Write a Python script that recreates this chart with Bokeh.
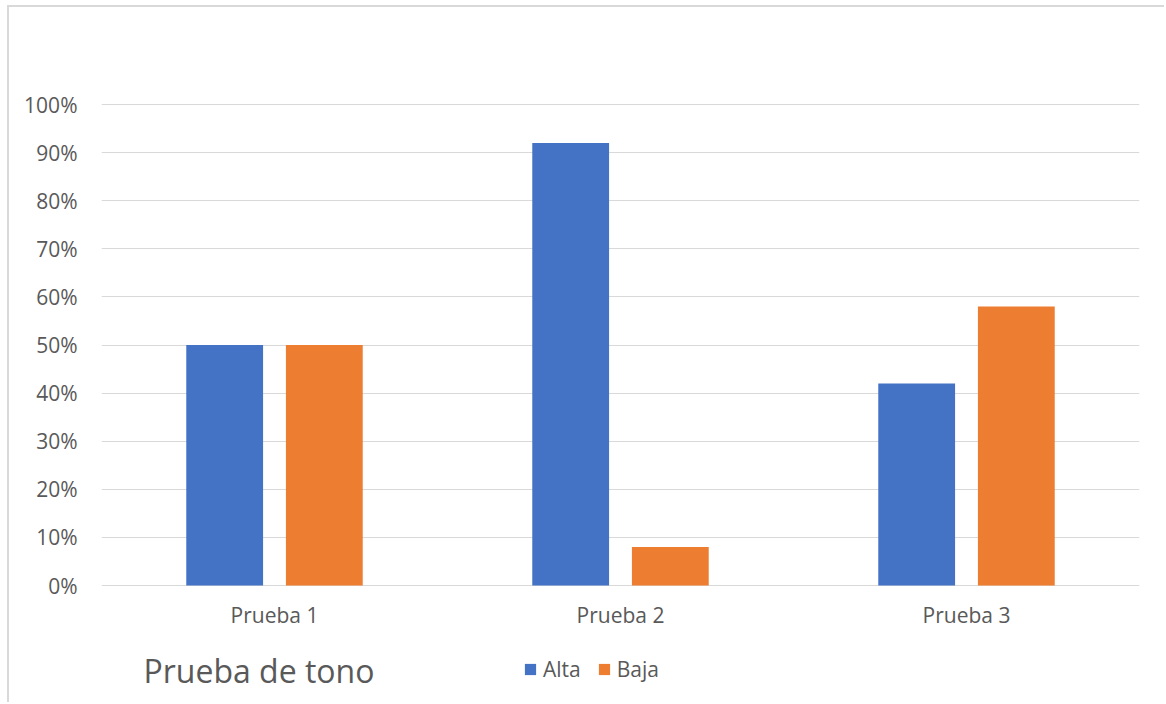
from bokeh.plotting import figure
from bokeh.models import ColumnDataSource, FactorRange, Range1d, FixedTicker, NumeralTickFormatter, Legend, LegendItem, Label
from bokeh.transform import dodge
from bokeh.core.properties import value
from bokeh.embed import file_html
from bokeh.resources import INLINE

categories = ["Prueba 1", "Prueba 2", "Prueba 3"]
alta = [0.50, 0.92, 0.42]
baja = [0.50, 0.08, 0.58]
y_ticks = [0.0, 0.1, 0.2, 0.3, 0.4, 0.5, 0.6, 0.7, 0.8, 0.9, 1.0]
title_text = "Prueba de tono"

FONT = "Open Sans"
TXT = "#595959"
FS = "21px"

# layout (pixels): frame spans from y=103 to window bottom; 0% at y=585, 100% at y=104
PX_PER_UNIT = 481.0
y_start = -(704 - 585) / PX_PER_UNIT
y_end = 1 + 1 / PX_PER_UNIT

src = ColumnDataSource(dict(cats=categories, alta=alta, baja=baja,
                            lab_y=[-29 / PX_PER_UNIT] * len(categories)))

p = figure(width=1157, height=697, x_range=FactorRange(*categories, range_padding=0),
           y_range=Range1d(y_start, y_end), output_backend="svg", toolbar_location=None,
           x_axis_location=None,
           min_border_left=92, min_border_right=27, min_border_top=96, min_border_bottom=0)
p.outline_line_color = None
p.background_fill_color = "white"
p.border_fill_color = "white"

r1 = p.vbar(x=dodge("cats", -0.144, range=p.x_range), top="alta", bottom=0, width=0.222, source=src,
            color="#4472C4", line_color=None)
r2 = p.vbar(x=dodge("cats", 0.144, range=p.x_range), top="baja", bottom=0, width=0.222, source=src,
            color="#ED7D31", line_color=None)

# category labels
p.text(x="cats", y="lab_y", text="cats", source=src, text_align="center", text_baseline="alphabetic",
       text_font=value(FONT), text_font_size=FS, text_color=TXT)

p.xgrid.grid_line_color = None
p.ygrid.grid_line_color = "#d9d9d9"
p.ygrid.grid_line_width = 1
p.ygrid.level = "underlay"

yax = p.yaxis[0]
yax.ticker = FixedTicker(ticks=y_ticks)
yax.formatter = NumeralTickFormatter(format="0%")
yax.axis_line_color = None
yax.major_tick_line_color = None
yax.minor_tick_line_color = None
yax.major_label_text_font = FONT
yax.major_label_text_font_size = FS
yax.major_label_text_color = TXT
yax.major_label_standoff = 18

legend = Legend(items=[LegendItem(label="Alta", renderers=[r1]), LegendItem(label="Baja", renderers=[r2])],
                location=(422, 21), orientation="horizontal", padding=0, margin=0, spacing=16,
                glyph_width=14, glyph_height=14, label_height=14, label_standoff=6,
                label_text_font=FONT, label_text_font_size=FS, label_text_color=TXT,
                border_line_color=None, background_fill_alpha=0)
p.add_layout(legend, "center")

p.add_layout(Label(x=42, y=34, x_units="screen", y_units="screen", text=title_text,
                   text_font=FONT, text_font_size="32px", text_color=TXT, text_baseline="alphabetic"))

p.styles = {"border-left": "2px solid #d9d9d9", "border-top": "2px solid #d9d9d9"}
p.margin = (5, 0, 0, 7)

open("out.html", "w").write(file_html(p, INLINE))
